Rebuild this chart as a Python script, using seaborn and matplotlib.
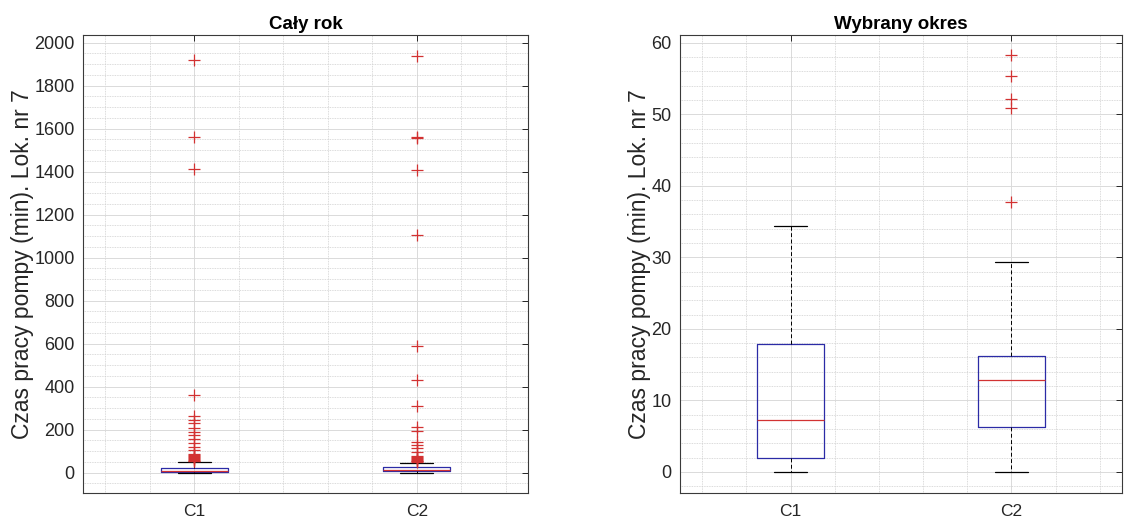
import matplotlib
matplotlib.use("Agg")
import matplotlib.pyplot as plt
from matplotlib.ticker import MultipleLocator
import pandas as pd
import seaborn as sns

categories = ["C1", "C2"]
titles = ["Cały rok", "Wybrany okres"]
y_label = "Czas pracy pompy (min). Lok. nr 7"

# Whole year (Cały rok) - pump running time, sorted estimates
rok_c1 = [0, 0, 0, 0, 0, 0, 0, 0, 0, 0.3, 0.5, 0.5, 0.8, 1, 1, 1.2, 1.3, 1.5, 1.5, 1.6, 1.8, 1.9, 2, 2,
          2,
          2.5, 3, 3.2, 3.5, 4, 4.2, 4.5, 4.8, 5, 5.2, 5.5, 5.8, 6, 6.2, 6.5, 6.8, 7, 7.2, 7.4, 7.5, 7.7, 7.8, 7.9,
          8,
          8.5, 9, 9.5, 10, 10.5, 11, 11.5, 12, 12.5, 13, 13.5, 14, 14.5, 15, 15.5, 16, 16.5, 17, 18, 19, 19.5, 20, 20.5,
          21,
          49,
          52, 55, 58, 62, 66, 71, 76, 82, 88,
          105, 120, 139, 155, 175, 190, 206, 229, 245, 262, 361,
          1410, 1560, 1920]
rok_c2 = [0, 0, 0, 0, 0, 0.5, 1, 1.5, 2, 2.5, 3, 3.5, 4, 4.5, 5, 5.5, 6, 6.3, 6.6, 7, 7.3, 7.6, 7.9,
          8,
          8.3, 8.5, 8.8, 9, 9.3, 9.5, 9.8, 10, 10.3, 10.6, 11, 11.3, 11.6, 12, 12.3, 12.6, 13, 13.2, 13.4, 13.6, 13.8, 13.9,
          14,
          14.3, 14.6, 15, 15.3, 15.6, 16, 16.4, 16.8, 17.2, 17.6, 18, 18.5, 19, 19.5, 20, 20.5, 21, 21.5, 22, 22.5, 23, 23.5,
          24,
          43,
          49, 52, 55, 58, 62, 66, 71, 76,
          97, 113, 128, 143, 192, 212, 311, 430, 589,
          1105, 1405, 1556, 1562, 1935]

# Selected period (Wybrany okres)
okres_c1 = [0, 0.5, 1, 1.3, 1.7, 1.9, 2.8, 3.5, 4.5, 6, 7.2, 8.5, 10, 12, 14.5, 17.9, 20, 23, 26, 30, 34.4]
okres_c2 = [0, 1, 2.5, 3.5, 4.8, 5.6, 6.3, 7.5, 8.8, 10, 11.2, 12.1, 12.9, 13.5, 14, 14.6, 15.2, 15.7, 16.2,
            29.3, 37.8, 50.9, 52.1, 55.4, 58.3]

sns.set_style("white")
plt.rcParams["font.family"] = ["Liberation Sans", "DejaVu Sans"]

BLUE = "#2b2ba6"
RED = "#d23232"
TXT = "#262626"

fig = plt.figure(figsize=(11.24, 5.19), dpi=100)
ax1 = fig.add_axes([0.0738, 0.0501, 0.3960, 0.8825])
ax2 = fig.add_axes([0.6050, 0.0501, 0.3932, 0.8825])


def draw(ax, c1, c2, title, ylim, major, minor):
    df = pd.DataFrame({"kanal": [categories[0]] * len(c1) + [categories[1]] * len(c2),
                       "czas": list(c1) + list(c2)})
    sns.boxplot(data=df, x="kanal", y="czas", order=categories, ax=ax, width=0.3,
                fill=False, color=BLUE, linewidth=0.9,
                boxprops=dict(color=BLUE, linewidth=0.9),
                medianprops=dict(color=RED, linewidth=0.9),
                whiskerprops=dict(color="black", linestyle=(0, (4, 2.5)), linewidth=0.7),
                capprops=dict(color="black", linewidth=0.9),
                flierprops=dict(marker="+", markeredgecolor=RED, markersize=8,
                                markeredgewidth=0.9, linestyle="none"))
    ax.set_axisbelow(True)
    ax.set_xlim(-0.5, 1.5)
    ax.set_ylim(*ylim)
    ax.yaxis.set_major_locator(MultipleLocator(major))
    ax.yaxis.set_minor_locator(MultipleLocator(minor))
    ax.xaxis.set_minor_locator(MultipleLocator(0.2))
    ax.grid(which="major", color="#dadada", linewidth=0.7, linestyle="-")
    ax.grid(which="minor", color="#cfcfcf", linewidth=0.6, linestyle=(0, (1, 1)))
    ax.tick_params(which="major", direction="in", length=4, width=0.7, top=True, right=True,
                   color=TXT, labelsize=13, labelcolor=TXT)
    ax.tick_params(which="minor", length=0, top=True, right=True)
    ax.tick_params(axis="y", pad=6)
    ax.tick_params(axis="x", pad=8, labelsize=12.5)
    ax.set_xlabel("")
    ax.set_ylabel(y_label, fontsize=16.5, color=TXT, labelpad=0)
    ax.set_title(title, fontsize=13.5, fontweight="bold", pad=4, color="black")
    for s in ax.spines.values():
        s.set_visible(True)
        s.set_color("#3a3a3a")
        s.set_linewidth(0.8)


draw(ax1, rok_c1, rok_c2, titles[0], (-95, 2035), 200, 50)
draw(ax2, okres_c1, okres_c2, titles[1], (-2.95, 61.1), 10, 2)

fig.savefig("out.png", dpi=100)
